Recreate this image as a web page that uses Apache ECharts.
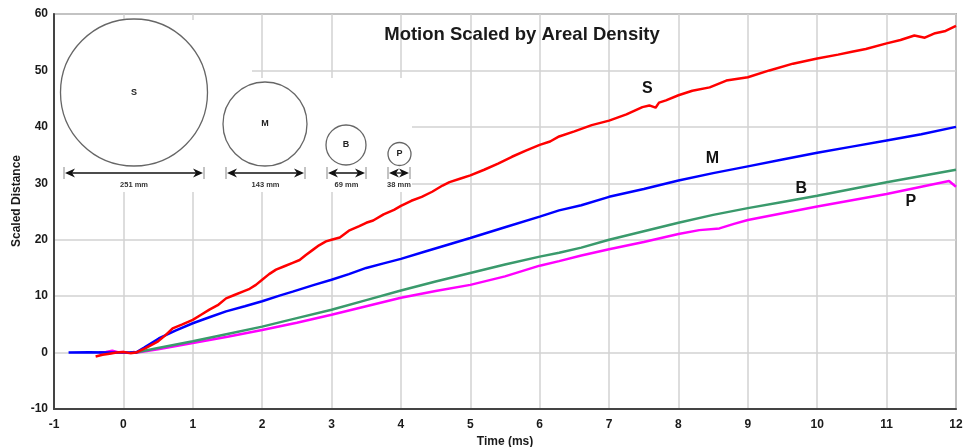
<!DOCTYPE html>
<html>
<head>
<meta charset="utf-8">
<script src="https://cdn.jsdelivr.net/npm/echarts@6/dist/echarts.min.js"></script>
<style>
html,body{margin:0;padding:0;background:#fff;}
#chart{width:964px;height:447px;}
</style>
</head>
<body>
<div id="chart"></div>
<script>
// ---- data ----
const seriesNames = ['S', 'M', 'B', 'P'];

const sTime = [-0.4,-0.3,-0.2,-0.1,0,0.1,0.18,0.32,0.5,0.6,0.71,0.85,1.0,1.12,1.24,1.36,1.48,1.6,1.72,1.82,1.91,2.0,2.1,2.2,2.32,2.44,2.54,2.63,2.73,2.82,2.92,3.0,3.12,3.25,3.4,3.5,3.6,3.75,3.9,4.0,4.15,4.3,4.45,4.6,4.7,4.85,5.0,5.2,5.4,5.6,5.8,6.0,6.15,6.28,6.5,6.75,7.0,7.25,7.48,7.58,7.67,7.72,7.82,8.0,8.2,8.45,8.69,9.0,9.31,9.65,10.0,10.3,10.5,10.7,11.0,11.2,11.4,11.55,11.7,11.85,12.0];
const sValues = [-0.7,-0.4,-0.2,0,0.1,-0.1,0,0.8,2.0,3.0,4.3,5.0,5.8,6.7,7.6,8.4,9.6,10.2,10.8,11.3,12.0,12.9,13.9,14.7,15.3,15.9,16.4,17.3,18.2,19.0,19.7,20.0,20.4,21.6,22.4,23.0,23.4,24.5,25.3,26.0,26.9,27.6,28.5,29.6,30.2,30.8,31.4,32.4,33.5,34.7,35.8,36.8,37.4,38.3,39.2,40.3,41.1,42.2,43.5,43.8,43.4,44.3,44.7,45.6,46.4,47.0,48.2,48.8,50.0,51.2,52.1,52.8,53.3,53.8,54.8,55.4,56.2,55.8,56.6,57.0,57.9];

const mTime = [-0.79,-0.5,-0.2,0,0.18,0.3,0.51,0.75,1.0,1.25,1.48,1.75,2.0,2.25,2.44,2.75,3.0,3.25,3.5,3.75,4.0,4.35,4.7,5.0,5.5,6.0,6.28,6.6,7.0,7.5,8.0,8.5,9.0,9.5,10.0,10.5,11.0,11.5,12.0];
const mValues = [0,0.05,0,0,0,0.9,2.5,3.9,5.2,6.3,7.3,8.2,9.1,10.1,10.8,12.0,12.9,13.9,15.0,15.8,16.6,17.9,19.2,20.3,22.2,24.1,25.2,26.1,27.6,29.0,30.5,31.8,33.0,34.2,35.4,36.5,37.6,38.7,40.0];

const bTime = [0.1,0.18,0.5,1.0,1.5,2.0,2.5,3.0,3.5,4.0,4.5,5.0,5.5,6.0,6.28,6.6,7.0,7.5,8.0,8.5,9.0,9.5,10.0,10.5,11.0,11.5,12.0];
const bValues = [0,0,0.8,2.0,3.3,4.6,6.1,7.6,9.3,11.0,12.6,14.1,15.6,17.0,17.7,18.6,20.0,21.5,23.0,24.4,25.6,26.7,27.8,29.0,30.2,31.3,32.4];

const pTime = [-0.35,-0.25,-0.16,-0.08,0,0.08,0.15,0.2,0.5,1.0,1.5,2.0,2.5,3.0,3.5,4.0,4.5,5.0,5.5,6.0,6.28,6.6,7.0,7.5,8.0,8.3,8.59,8.8,9.0,9.5,10.0,10.5,11.0,11.5,11.9,12.0];
const pValues = [0,0.1,0.35,0.05,0.1,-0.1,0.1,0,0.6,1.7,2.8,4.0,5.3,6.7,8.2,9.7,10.9,12.0,13.5,15.4,16.2,17.2,18.3,19.6,21.0,21.7,22.0,22.8,23.5,24.7,25.9,27.0,28.1,29.4,30.4,29.4];

const xTicks = {min: -1, max: 12, interval: 1};
const yTicks = {min: -10, max: 60, interval: 10};

// curve labels (data coordinates) and inset annotations
const curveLabelTime = [7.55, 8.49, 9.77, 11.35];
const curveLabelValue = [46.7, 34.3, 29.0, 26.7];
const insetNames = ['S', 'M', 'B', 'P'];
const insetSizes = ['251 mm', '143 mm', '69 mm', '38 mm'];

// ---- chart ----
const colors = ['#ff0000', '#0000ff', '#3a9a6c', '#ff00ff'];
const FONT = 'Liberation Sans, Arial, sans-serif';
const zip = (a, b) => a.map((x, i) => [x, b[i]]);
const dataSets = [zip(sTime, sValues), zip(mTime, mValues), zip(bTime, bValues), zip(pTime, pValues)];

const chart = echarts.init(document.getElementById('chart'), null, {renderer: 'canvas'});

const option = {
  animation: false,
  backgroundColor: '#fff',
  title: {
    text: 'Motion Scaled by Areal Density',
    left: 517, top: 20, textAlign: 'center',
    textStyle: {fontFamily: FONT, fontSize: 18.5, fontWeight: 'bold', color: '#1a1a1a'}
  },
  grid: {left: 54, right: 8, top: 14, bottom: 38, containLabel: false, outerBoundsMode: 'none',
    show: true, borderColor: '#777', borderWidth: 1.5, backgroundColor: 'transparent'},
  xAxis: {
    type: 'value', min: xTicks.min, max: xTicks.max, interval: xTicks.interval,
    name: 'Time (ms)', nameLocation: 'middle', nameGap: 24,
    nameTextStyle: {fontFamily: FONT, fontSize: 12, fontWeight: 'bold', color: '#1a1a1a'},
    axisLine: {show: true, onZero: false, lineStyle: {color: '#444', width: 2}},
    axisTick: {show: false},
    axisLabel: {fontFamily: FONT, fontSize: 12, fontWeight: 'bold', color: '#1a1a1a', margin: 10},
    splitLine: {show: true, lineStyle: {color: '#d2d2d2', width: 1.5}}
  },
  yAxis: {
    type: 'value', min: yTicks.min, max: yTicks.max, interval: yTicks.interval,
    axisLine: {show: true, onZero: false, lineStyle: {color: '#444', width: 2}},
    axisTick: {show: false},
    axisLabel: {fontFamily: FONT, fontSize: 12, fontWeight: 'bold', color: '#1a1a1a', margin: 6},
    splitLine: {show: true, lineStyle: {color: '#d2d2d2', width: 1.5}}
  },
  series: dataSets.map((d, i) => ({
    name: seriesNames[i], type: 'line', data: d, showSymbol: false, symbol: 'none',
    z: 3 + (3 - i),
    lineStyle: {color: colors[i], width: 2.5}
  }))
};
chart.setOption(option);

// graphic overlays
const g = [];
// white panels hiding grid behind the inset
g.push({type: 'rect', shape: {x: 55, y: 20, width: 197, height: 172}, style: {fill: '#fff'}, z: 1, silent: true});
g.push({type: 'rect', shape: {x: 200, y: 78, width: 212, height: 114}, style: {fill: '#fff'}, z: 1, silent: true});

// y axis name
g.push({type: 'text', x: 17, y: 201, rotation: Math.PI / 2,
  style: {text: 'Scaled Distance', font: 'bold 12px ' + FONT, fill: '#1a1a1a', textAlign: 'center', textVerticalAlign: 'middle'}, z: 5});

// inset circles
const circ = [
  {cx: 134, cy: 92.5, r: 73.5, ax0: 64, ax1: 204},
  {cx: 265, cy: 124, r: 42, ax0: 226, ax1: 305},
  {cx: 346, cy: 145, r: 20, ax0: 327, ax1: 366},
  {cx: 399.5, cy: 154, r: 11.5, ax0: 388, ax1: 410}
];
const arrowY = 173;
function head(tipX, dir) {
  const L = 10, H = 4.5, N = 3;
  return [[tipX, arrowY], [tipX - dir * L, arrowY - H], [tipX - dir * (L - N), arrowY], [tipX - dir * L, arrowY + H]];
}
circ.forEach((c, i) => {
  g.push({type: 'circle', shape: {cx: c.cx, cy: c.cy, r: c.r}, style: {fill: 'none', stroke: '#666', lineWidth: 1.3}, z: 2});
  g.push({type: 'text', x: c.cx, y: c.cy, style: {text: insetNames[i], font: 'bold 9px ' + FONT, fill: '#222', textAlign: 'center', textVerticalAlign: 'middle'}, z: 2});
  g.push({type: 'line', shape: {x1: c.ax0 + 3, y1: arrowY, x2: c.ax1 - 3, y2: arrowY}, style: {stroke: '#111', lineWidth: 1.3}, z: 2});
  g.push({type: 'line', shape: {x1: c.ax0, y1: arrowY - 6, x2: c.ax0, y2: arrowY + 6}, style: {stroke: '#888', lineWidth: 1}, z: 2});
  g.push({type: 'line', shape: {x1: c.ax1, y1: arrowY - 6, x2: c.ax1, y2: arrowY + 6}, style: {stroke: '#888', lineWidth: 1}, z: 2});
  g.push({type: 'polygon', shape: {points: head(c.ax0 + 1, -1)}, style: {fill: '#111'}, z: 2});
  g.push({type: 'polygon', shape: {points: head(c.ax1 - 1, 1)}, style: {fill: '#111'}, z: 2});
  g.push({type: 'text', x: (c.ax0 + c.ax1) / 2, y: 185, style: {text: insetSizes[i], font: 'bold 7.5px ' + FONT, fill: '#333', textAlign: 'center', textVerticalAlign: 'middle'}, z: 2});
});

// curve labels via data coordinates
curveLabelTime.forEach((t, i) => {
  const p = chart.convertToPixel({gridIndex: 0}, [t, curveLabelValue[i]]);
  g.push({type: 'text', x: p[0], y: p[1], style: {text: seriesNames[i], font: 'bold 16px ' + FONT, fill: '#111', textAlign: 'center', textVerticalAlign: 'middle'}, z: 6});
});

chart.setOption({graphic: {elements: g}});
</script>
</body>
</html>
